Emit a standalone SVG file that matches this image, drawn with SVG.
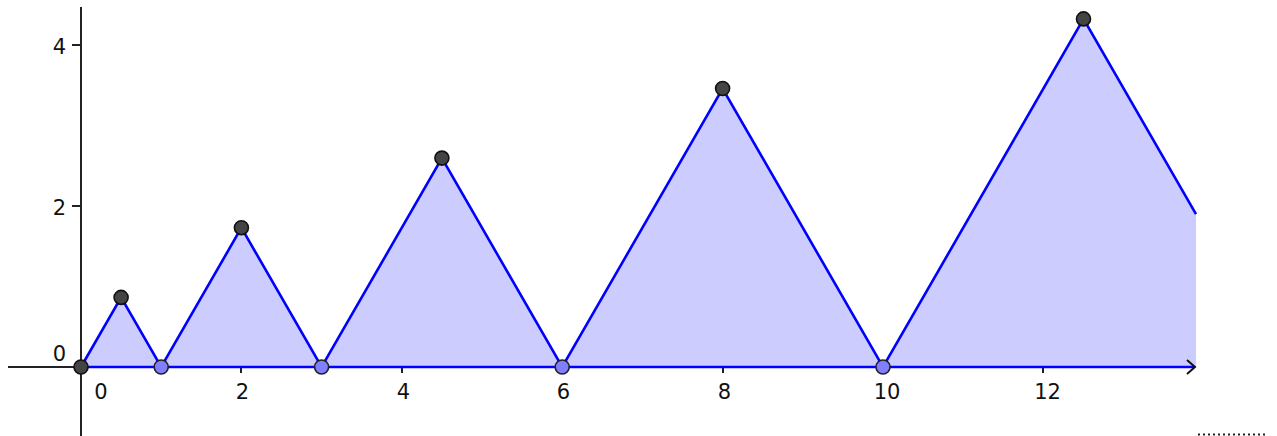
<svg xmlns="http://www.w3.org/2000/svg" width="1277" height="436" viewBox="0 0 1277 436">
<style>
.axis{stroke:#222;stroke-width:2;fill:none}
.tick{stroke:#222;stroke-width:2}
.lbl{font-family:"DejaVu Sans",sans-serif;font-size:21px;fill:#111}
.curve{stroke:#0000ff;stroke-width:2.6;fill:none;stroke-linejoin:miter}
.fill{fill:#ccccff;stroke:none}
.pk{fill:#444;stroke:#111;stroke-width:1.6}
.bs{fill:#8080ff;stroke:#222;stroke-width:1.6}
</style>
<rect width="1277" height="436" fill="#fff"/>
<g id="axes">
<line class="axis" x1="8" y1="367" x2="1195" y2="367"/>
<line class="axis" x1="81" y1="7" x2="81" y2="436"/>
<line class="tick" x1="72" y1="45" x2="81" y2="45"/>
<line class="tick" x1="72" y1="206" x2="81" y2="206"/>
<line class="tick" x1="241" y1="367" x2="241" y2="373"/>
<line class="tick" x1="402" y1="367" x2="402" y2="373"/>
<line class="tick" x1="562" y1="367" x2="562" y2="373"/>
<line class="tick" x1="723" y1="367" x2="723" y2="373"/>
<line class="tick" x1="883" y1="367" x2="883" y2="373"/>
<line class="tick" x1="1043" y1="367" x2="1043" y2="373"/>
<text class="lbl" x="59.5" y="54" text-anchor="middle">4</text>
<text class="lbl" x="59.5" y="215" text-anchor="middle">2</text>
<text class="lbl" x="59.5" y="361" text-anchor="middle">0</text>
<text class="lbl" x="101" y="399" text-anchor="middle">0</text>
<text class="lbl" x="242.5" y="399" text-anchor="middle">2</text>
<text class="lbl" x="403.5" y="399" text-anchor="middle">4</text>
<text class="lbl" x="563.5" y="399" text-anchor="middle">6</text>
<text class="lbl" x="724.5" y="399" text-anchor="middle">8</text>
<text class="lbl" x="887" y="399" text-anchor="middle">10</text>
<text class="lbl" x="1047.5" y="399" text-anchor="middle">12</text>
</g>
<g id="region">
<polygon class="fill" points="81,367 121.1,297.4 161.2,367 241.4,227.7 321.6,367 441.9,158.1 562.2,367 722.6,88.5 883,367 1083.5,18.9 1196,214.2 1196,367"/>
</g>
<g id="connectors">
<polyline class="curve" points="81,367 121.1,297.4 161.2,367 241.4,227.7 321.6,367 441.9,158.1 562.2,367 722.6,88.5 883,367 1083.5,18.9 1196,214.2"/>
<line class="curve" x1="81" y1="367" x2="1194" y2="367"/>
<polyline points="1187,360 1195,367 1187,374" fill="none" stroke="#111" stroke-width="2"/>
</g>
<g id="p0"><circle class="pk" cx="81" cy="367" r="7"/></g>
<g id="a1"><circle class="pk" cx="121.1" cy="297.4" r="7"/></g>
<g id="b1"><circle class="bs" cx="161.2" cy="367" r="7"/></g>
<g id="a2"><circle class="pk" cx="241.4" cy="227.7" r="7"/></g>
<g id="b2"><circle class="bs" cx="321.6" cy="367" r="7"/></g>
<g id="a3"><circle class="pk" cx="441.9" cy="158.1" r="7"/></g>
<g id="b3"><circle class="bs" cx="562.2" cy="367" r="7"/></g>
<g id="a4"><circle class="pk" cx="722.6" cy="88.5" r="7"/></g>
<g id="b4"><circle class="bs" cx="883" cy="367" r="7"/></g>
<g id="a5"><circle class="pk" cx="1083.5" cy="18.9" r="7"/></g>
<line x1="1198" y1="434.5" x2="1267" y2="434.5" stroke="#222" stroke-width="2" stroke-dasharray="2,3"/>
</svg>
